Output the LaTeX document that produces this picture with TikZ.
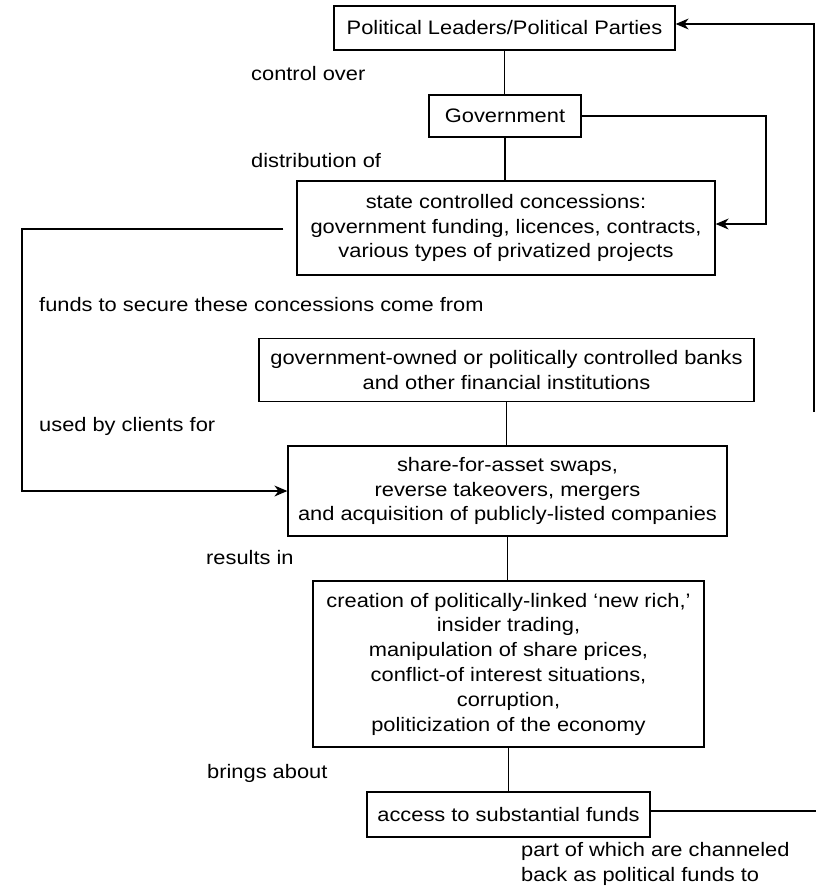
\documentclass[tikz,border=0pt]{standalone}
\usepackage{fontspec}
\setmainfont{Liberation Sans}[FakeStretch=1.12]
\usetikzlibrary{arrows.meta}
\begin{document}
\begin{tikzpicture}[x=1bp,y=-1bp,
  every node/.style={font=\fontsize{19.5bp}{24.8bp}\selectfont, inner sep=0pt},
  box/.style={draw, line width=1.3bp, align=center},
  lbl/.style={anchor=west, align=left},
  conn/.style={line width=1.1bp},
  arr/.style={conn, -{Stealth[length=13bp,width=11bp]}}]
\useasboundingbox (0,0) rectangle (816,887);
% boxes
\node[box, minimum width=341bp, minimum height=44bp] (pol) at (504.5,28) {Political Leaders/Political Parties};
\node[box, minimum width=152bp, minimum height=42bp] (gov) at (505,116) {Government};
\node[box, minimum width=418bp, minimum height=94bp] (conc) at (506,228) {state controlled concessions:\\government funding, licences, contracts,\\various types of privatized projects};
\node[box, minimum width=495bp, minimum height=63bp] (bank) at (506.5,370) {government-owned or politically controlled banks\\and other financial institutions};
\node[box, minimum width=439bp, minimum height=90bp] (share) at (507.5,491) {share-for-asset swaps,\\reverse takeovers, mergers\\and acquisition of publicly-listed companies};
\node[box, minimum width=391bp, minimum height=166bp] (crea) at (508.5,664) {creation of politically-linked `new rich,'\\insider trading,\\manipulation of share prices,\\conflict-of interest situations,\\corruption,\\politicization of the economy};
\node[box, minimum width=283bp, minimum height=45bp] (acc) at (508.5,814.5) {access to substantial funds};
% labels
\node[lbl] (l1) at (251,74) {control over};
\node[lbl] (l2) at (251,161) {distribution of};
\node[lbl] (l3) at (39,305) {funds to secure these concessions come from};
\node[lbl] (l4) at (39,426) {used by clients for};
\node[lbl] (l5) at (206,558) {results in};
\node[lbl] (l6) at (207,773) {brings about};
\node[lbl] (l7) at (521,864) {part of which are channeled\\back as political funds to};
% vertical connectors
\draw[conn] (pol.south) -- (pol.south |- gov.north);
\draw[conn] (gov.south) -- (gov.south |- conc.north);
\draw[conn] (bank.south) -- (bank.south |- share.north);
\draw[conn] (share.south) -- (share.south |- crea.north);
\draw[conn] (crea.south) -- (crea.south |- acc.north);
% government to concessions
\coordinate (G1) at (766,116);
\coordinate (G2) at (766,224);
\draw[arr] (gov.east) -- (G1) -- (G2) -- (conc.east |- G2);
% concessions to share swaps
\coordinate (L1) at (22,229);
\draw[arr, shorten <=13bp] (conc.west |- L1) -- (L1) |- (share.west);
% feedback to political leaders
\coordinate (R1) at (814,24);
\coordinate (R2) at (814,412);
\draw[arr] (R2) -- (R1) -- (pol.east |- R1);
\coordinate (B1) at (816,811);
\draw[conn] (acc.east |- B1) -- (B1);
\end{tikzpicture}
\end{document}
